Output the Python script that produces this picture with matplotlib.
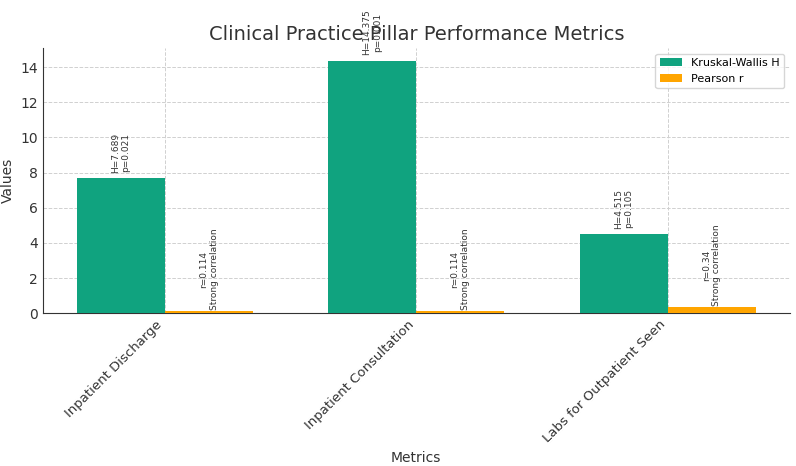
import matplotlib
matplotlib.use("Agg")
import matplotlib.pyplot as plt
import numpy as np

categories = ["Inpatient Discharge", "Inpatient Consultation", "Labs for Outpatient Seen"]
h_values = [7.689, 14.375, 4.515]
p_values = [0.021, 0.001, 0.105]
r_values = [0.114, 0.114, 0.34]
r_labels = ["Strong correlation", "Strong correlation", "Strong correlation"]

fig, ax = plt.subplots(figsize=(7.96, 4.66), dpi=100)
x = np.arange(len(categories))
w = 0.35
green = "#10a37f"
orange = "#ffa500"
b1 = ax.bar(x - w/2, h_values, w, color=green, label="Kruskal-Wallis H", zorder=3)
b2 = ax.bar(x + w/2, r_values, w, color=orange, label="Pearson r", zorder=3)

for xi, h, p in zip(x, h_values, p_values):
    ax.text(xi - w/2, h + 0.3, f"H={h}\np={p}", rotation=90, ha="center", va="bottom",
            fontsize=6.5, color="#333333")
for xi, r, lab in zip(x, r_values, r_labels):
    ax.text(xi + w/2, r + 0.05, f"r={r}\n{lab}", rotation=90, ha="center", va="bottom",
            fontsize=6.5, color="#333333")

ax.set_xticks(x)
ax.set_xticklabels(categories, rotation=45, ha="right", fontsize=9.5, color="#333333")
ax.tick_params(axis="y", labelsize=10, colors="#333333")
ax.set_title("Clinical Practice Pillar Performance Metrics", fontsize=14, color="#333333")
ax.set_xlabel("Metrics", fontsize=10, color="#333333")
ax.set_ylabel("Values", fontsize=10, color="#333333")
ax.grid(True, linestyle="--", color="#d0d0d0", linewidth=0.7, zorder=0)
ax.set_axisbelow(True)
for s in ["top", "right"]:
    ax.spines[s].set_visible(False)
for s in ["left", "bottom"]:
    ax.spines[s].set_color("#333333")
ax.tick_params(axis="both", length=0)
leg = ax.legend(loc="upper right", fontsize=8)
fig.subplots_adjust(left=0.054, right=0.992, top=0.897, bottom=0.328)
fig.savefig("out.png", dpi=100)
